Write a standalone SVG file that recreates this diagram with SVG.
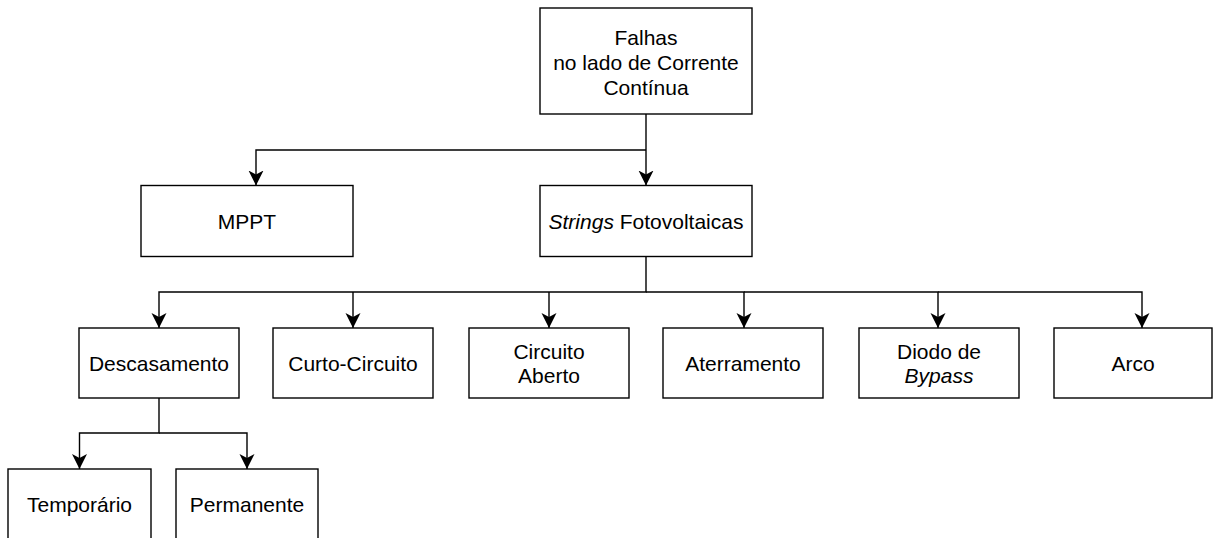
<svg xmlns="http://www.w3.org/2000/svg" width="1213" height="538" viewBox="0 0 1213 538">
  <style>
    .box { fill: #ffffff; stroke: #000000; stroke-width: 1.4; }
    .label { font-family: "Liberation Sans", Arial, sans-serif; font-size: 21px; fill: #000000; text-anchor: middle; }
    .edge { fill: none; stroke: #000000; stroke-width: 1.4; marker-end: url(#arrow); }
  </style>
  <defs>
    <marker id="arrow" markerUnits="userSpaceOnUse" markerWidth="16" markerHeight="16" refX="15" refY="7.5" orient="auto">
      <path d="M0,0 L15,7.5 L0,15 L4,7.5 Z" fill="#000000"/>
    </marker>
  </defs>
  <rect width="1213" height="538" fill="#ffffff"/>

  <!-- connectors -->
  <g id="connectors">
    <path class="edge" d="M646,114 V185.5"/>
    <path class="edge" d="M646,150 H256 V185.5"/>
    <path class="edge" d="M646,257 V292 H159 V328"/>
    <path class="edge" d="M353,292 V328"/>
    <path class="edge" d="M549,292 V328"/>
    <path class="edge" d="M646,292 H744 V328"/>
    <path class="edge" d="M744,292 H938 V328"/>
    <path class="edge" d="M938,292 H1142 V328"/>
    <path class="edge" d="M159,398 V433 H79.5 V469"/>
    <path class="edge" d="M159,433 H247 V469"/>
  </g>

  <!-- root -->
  <g id="node-falhas">
    <rect class="box" x="540" y="8" width="212" height="106"/>
    <text class="label" x="646" y="45">Falhas</text>
    <text class="label" x="646" y="70">no lado de Corrente</text>
    <text class="label" x="646" y="95">Contínua</text>
  </g>

  <!-- level 1 -->
  <g id="node-mppt">
    <rect class="box" x="141" y="185.5" width="212" height="71"/>
    <text class="label" x="247" y="228.5">MPPT</text>
  </g>
  <g id="node-strings">
    <rect class="box" x="540" y="185.5" width="212" height="71"/>
    <text class="label" x="646" y="228.5"><tspan font-style="italic">Strings</tspan> Fotovoltaicas</text>
  </g>

  <!-- level 2 -->
  <g id="node-descasamento">
    <rect class="box" x="79" y="328" width="160" height="70"/>
    <text class="label" x="159" y="370.5">Descasamento</text>
  </g>
  <g id="node-curto">
    <rect class="box" x="273" y="328" width="160" height="70"/>
    <text class="label" x="353" y="370.5">Curto-Circuito</text>
  </g>
  <g id="node-aberto">
    <rect class="box" x="469" y="328" width="160" height="70"/>
    <text class="label" x="549" y="358.5">Circuito</text>
    <text class="label" x="549" y="382.5">Aberto</text>
  </g>
  <g id="node-aterramento">
    <rect class="box" x="663" y="328" width="160" height="70"/>
    <text class="label" x="743" y="370.5">Aterramento</text>
  </g>
  <g id="node-diodo">
    <rect class="box" x="859" y="328" width="160" height="70"/>
    <text class="label" x="939" y="358.5">Diodo de</text>
    <text class="label" x="939" y="382.5" font-style="italic">Bypass</text>
  </g>
  <g id="node-arco">
    <rect class="box" x="1054" y="328" width="158" height="70"/>
    <text class="label" x="1133" y="370.5">Arco</text>
  </g>

  <!-- level 3 -->
  <g id="node-temporario">
    <rect class="box" x="8" y="469" width="143" height="72"/>
    <text class="label" x="79.5" y="511.5">Temporário</text>
  </g>
  <g id="node-permanente">
    <rect class="box" x="176" y="469" width="142" height="72"/>
    <text class="label" x="247" y="511.5">Permanente</text>
  </g>
</svg>
